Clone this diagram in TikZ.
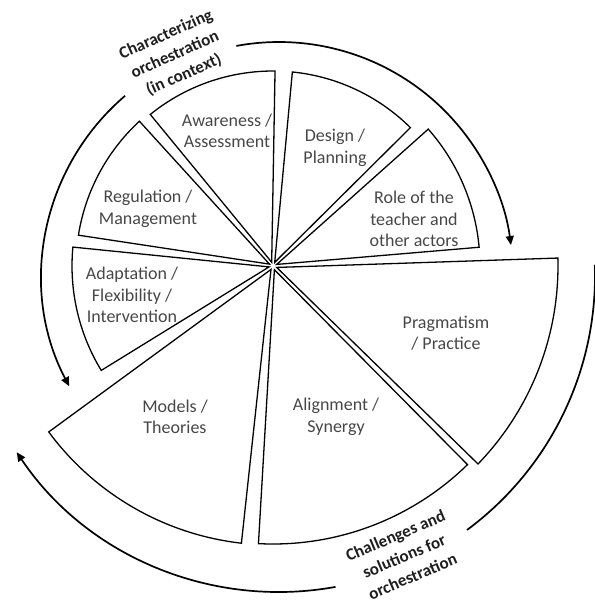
\documentclass[tikz,border=0pt]{standalone}
\usepackage{fontspec}
\setmainfont{Carlito}
\usetikzlibrary{arrows.meta}

\tikzset{
  slice/.style={line width=1.3pt,line join=miter},
  loop/.style={line width=1.7pt},
  looptip/.style={loop,-{Triangle[length=9pt,width=8pt]}},
  slicetext/.style={align=center,text=black!72,font=\fontsize{18}{21.5}\selectfont},
  looptext/.style={align=center,text=black!88,font=\bfseries\fontsize{17}{22}\selectfont},
}

\begin{document}
\begin{tikzpicture}[x=1pt,y=1pt]
\useasboundingbox (-273,-340) rectangle (322,266);
% ---- slices: start angle / end angle / radius ----
\foreach \a/\b/\r in {45.2/84.3/195, 89.4/129/195, 132.7/171/197, 174.6/211.3/201,
                      216.5/263.5/279, 267/314.4/278, 316/361.6/285, 5.2/41.4/207}{
  \draw[slice] ({(\a+\b)/2}:4pt) -- (\a:\r pt)
    arc[start angle=\a,end angle=\b,radius=\r pt] -- cycle;
}
% ---- slice labels ----
\node[slicetext] (design)     at (62,118)   {Design /\\Planning};
\node[slicetext] (awareness)  at (-46,135)  {Awareness /\\Assessment};
\node[slicetext] (regulation) at (-125,57)  {Regulation /\\Management};
\node[slicetext] (adaptation) at (-141,-29) {Adaptation /\\Flexibility /\\Intervention};
\node[slicetext] (models)     at (-98,-151) {Models /\\Theories};
\node[slicetext] (alignment)  at (63,-151)  {Alignment /\\Synergy};
\node[slicetext] (pragmatism) at (173,-67)  {Pragmatism\\/ Practice};
\node[slicetext] (role)       at (141,47)   {Role of the\\teacher and\\other actors};
% ---- outer loops ----
\coordinate (hub) at (6,-10);
\draw[looptip] ([shift={(100.5:234pt)}]hub) arc[start angle=100.5,end angle=7.6,radius=234pt];
\draw[looptip] ([shift={(130.5:237pt)}]hub) arc[start angle=130.5,end angle=207.7,radius=237pt];
\draw[loop] ([shift={(2:316pt)}]hub) arc[start angle=2,end angle=-53.5,radius=316pt];
\draw[looptip] ([shift={(-79.7:316pt)}]hub) arc[start angle=-79.7,end angle=-146.1,radius=316pt];
% ---- loop labels ----
\node[looptext,rotate=24] (context) at (-98,211) {Characterizing\\orchestration\\(in context)};
\node[looptext,rotate=23] (challenges) at (131,-290) {Challenges and\\solutions for\\orchestration};
\end{tikzpicture}
\end{document}
